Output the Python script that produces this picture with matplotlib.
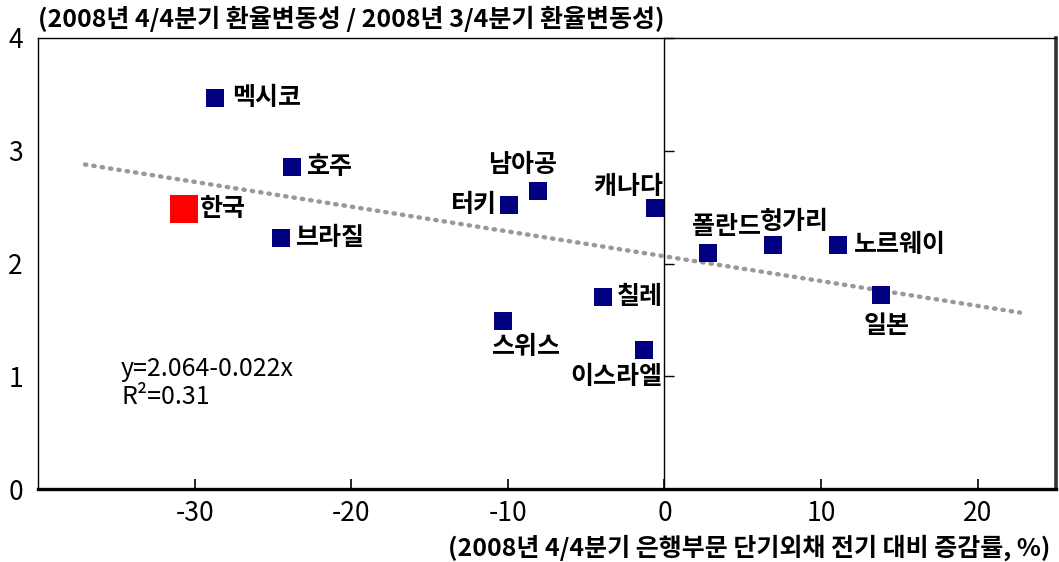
import matplotlib
matplotlib.use("Agg")
import matplotlib.pyplot as plt

plt.rcParams['font.family'] = ['Noto Sans CJK KR', 'DejaVu Sans']

countries = ['멕시코', '호주', '한국', '브라질', '남아공', '터키', '캐나다', '스위스',
             '칠레', '이스라엘', '폴란드', '헝가리', '노르웨이', '일본']
debt_change = [-28.7, -23.8, -30.7, -24.5, -8.1, -9.9, -0.6, -10.3,
               -3.95, -1.3, 2.75, 6.95, 11.1, 13.8]
fx_vol_ratio = [3.47, 2.86, 2.48, 2.23, 2.64, 2.52, 2.49, 1.49,
                1.70, 1.23, 2.09, 2.16, 2.16, 1.72]

intercept, slope = 2.064, -0.022
r_squared = 0.31
trend_x = [-37.0, 22.7]

x_ticks = [-30, -20, -10, 0, 10, 20]
y_ticks = [0, 1, 2, 3, 4]

title = '(2008년 4/4분기 환율변동성 / 2008년 3/4분기 환율변동성)'
xlabel = '(2008년 4/4분기 은행부문 단기외채 전기 대비 증감률, %)'

# label placement (offset in points, ha)
label_pos = {
    '멕시코': (12, 0, 'left'),
    '호주': (11, 0, 'left'),
    '한국': (12, 0, 'left'),
    '브라질': (11, 0, 'left'),
    '남아공': (-11, 19, 'center'),
    '터키': (-9, 0, 'right'),
    '캐나다': (-19, 15, 'center'),
    '스위스': (17, -19, 'center'),
    '칠레': (10, 0, 'left'),
    '이스라엘': (-20, -19, 'center'),
    '폴란드': (14, 19, 'center'),
    '헝가리': (15, 17, 'center'),
    '노르웨이': (11, 0, 'left'),
    '일본': (4, -22, 'center'),
}

fig = plt.figure(figsize=(10.59, 5.62), dpi=100)
ax = fig.add_axes([38 / 1059, 1 - 489 / 562, (1056 - 38) / 1059, (489 - 38) / 562])
ax.set_xlim(-40, 25)
ax.set_ylim(0, 4)

# trend line
trend_y = [intercept + slope * v for v in trend_x]
ax.plot(trend_x, trend_y, color='#999999', lw=3.2, ls=(0, (0.3, 1.6)),
        dash_capstyle='round', zorder=2)

for name, xv, yv in zip(countries, debt_change, fx_vol_ratio):
    if name == '한국':
        ax.scatter([xv], [yv], marker='s', s=400, color='#ff0000', zorder=3, linewidths=0)
    else:
        ax.scatter([xv], [yv], marker='s', s=175, color='#000080', zorder=3, linewidths=0)
    dx, dy, ha = label_pos[name]
    ax.annotate(name, (xv, yv), xytext=(dx, dy), textcoords='offset points',
                ha=ha, va='center', fontsize=18, fontweight='bold', zorder=4)

ax.text(-34.7, 1.06, f'y={intercept:.3f}{slope:.3f}x',
        fontsize=18, ha='left', va='center')
ax.text(-34.7, 0.82, f'R²={r_squared:.2f}', fontsize=18, ha='left', va='center')

# axes styling
ax.set_xticks(x_ticks)
ax.set_xticklabels([str(t) for t in x_ticks])
ax.set_yticks(y_ticks)
ax.tick_params(axis='x', direction='in', length=7, width=1.2, labelsize=19, pad=8)
ax.tick_params(axis='y', length=0, labelsize=19, pad=16)
for lab in ax.get_yticklabels():
    lab.set_horizontalalignment('center')
ax.spines['bottom'].set_linewidth(2.4)
ax.spines['left'].set_linewidth(1.0)
ax.spines['top'].set_linewidth(1.0)
ax.spines['right'].set_linewidth(2.6)
ax.spines['right'].set_color('#333333')

# zero line with y ticks
loc = (0 - ax.get_xlim()[0]) / (ax.get_xlim()[1] - ax.get_xlim()[0])
sec = ax.secondary_yaxis(loc)
sec.set_alignment('right')
sec.set_yticks(y_ticks)
sec.tick_params(axis='y', direction='out', length=7, width=1.0, labelright=False, labelleft=False)
sec.spines['right'].set_linewidth(1.0)

fig.text(38 / 1059, 1 - 19 / 562, title, fontsize=18, fontweight='bold', ha='left', va='center')
fig.text(1050 / 1059, 1 - 548 / 562, xlabel, fontsize=18, fontweight='bold', ha='right', va='center')

fig.savefig('out.png', dpi=100)
